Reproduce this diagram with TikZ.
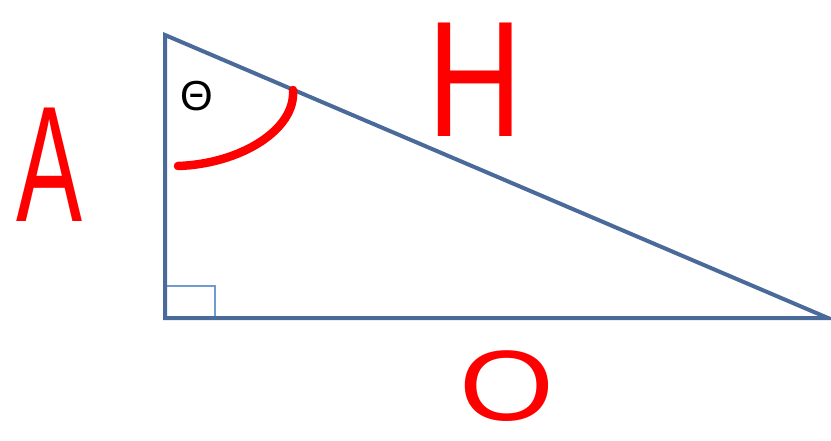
\documentclass[tikz,border=0pt]{standalone}
\usepackage{fontspec}
\newfontfamily\hand{Liberation Sans}
\definecolor{edgeblue}{HTML}{4A6A9A}
\definecolor{boxblue}{HTML}{6F9BD1}
\begin{document}
\begin{tikzpicture}[x=1pt, y=-1pt, side/.style = {draw=edgeblue, line width=4pt, line join=miter}, letter/.style = {text=red, inner sep=0pt, font=\hand\fontsize{165}{165}\selectfont}] 
    \useasboundingbox (0,0) rectangle (831,441);
    \coordinate (top) at (165,35);
    \coordinate (corner) at (165,318);
    \coordinate (tip) at (828,318);
    \draw[boxblue, line width=1.8pt] (165,286) -- (215,286) -- (215,318);
    \draw[side] (top) -- (corner) -- (tip) -- cycle;
    \node (theta) at (197,96) [inner sep=0pt, font=\hand\fontsize{42}{42}\selectfont] {Θ};
    \coordinate (arcstart) at (178,166);
    \coordinate (arcend) at (293,90);
    \draw[red, line width=8.5pt, line cap=round] (arcstart) .. controls (240,164) and (296,130) .. (arcend);
    \node[letter] (A) at (50,165) {\scalebox{0.6}[1]{A}};
    \node[letter] (H) at (475,80) {\scalebox{0.8}[1]{H}};
    \node[letter, font=\hand\fontsize{100}{100}\selectfont] (O) at (507,386) {\scalebox{1.22}[1]{O}};
\end{tikzpicture}
\end{document}
